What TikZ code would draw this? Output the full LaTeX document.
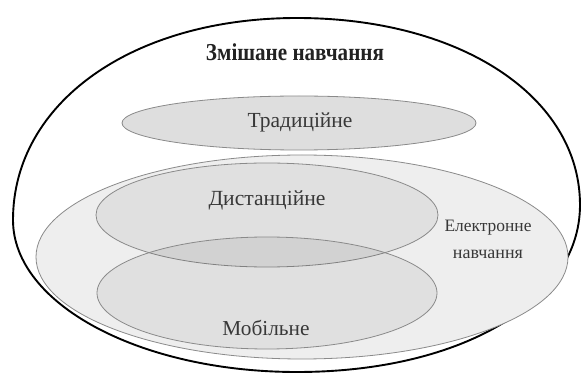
\documentclass[tikz,border=0pt]{standalone}
\usepackage{fontspec}
\setmainfont{Liberation Serif}
\usetikzlibrary{shapes.geometric}
\definecolor{rim}{HTML}{8A8A8A}
\definecolor{txt}{HTML}{383838}
\definecolor{ttl}{HTML}{222222}
\definecolor{efill}{HTML}{EEEEEE}
\definecolor{tfill}{HTML}{DEDEDE}
\tikzset{
  oval/.style={ellipse, draw=rim, line width=0.8pt, inner sep=0pt},
  overlapoval/.style={oval, fill=black, fill opacity=0.06},
  outerline/.style={draw=black, line width=1.9pt, fill=white},
  lbl/.style={inner sep=0pt, text=txt, font=\fontsize{20}{22}\selectfont}
}
\newcommand\fitw[2]{\resizebox{#1}{!}{#2}}
\begin{document}
\begin{tikzpicture}[x=1pt,y=-1pt]
\useasboundingbox (0,0) rectangle (582,374);
\coordinate (oR) at (580,205);
\coordinate (oT) at (297,18);
\coordinate (oL) at (13,220);
\coordinate (oB) at (297,372);
\path[outerline] (oR) .. controls (580,97) and (461,18) .. (oT)
  .. controls (132,18) and (13,103) .. (oL)
  .. controls (13,304) and (140,372) .. (oB)
  .. controls (461,372) and (580,302) .. (oR) -- cycle;
\node[oval, fill=efill, minimum width=532pt, minimum height=204pt] (elearn) at (302,257) {};
\node[oval, fill=tfill, minimum width=354pt, minimum height=54pt] (trad) at (299,123) {};
\node[overlapoval, minimum width=342pt, minimum height=104pt] (dist) at (267,215) {};
\node[overlapoval, minimum width=340pt, minimum height=112pt] (mob) at (267,293) {};
\node[lbl, text=ttl] (tmix) at (295,52) {\scalebox{1}[1.15]{\fitw{178pt}{\bfseries Змішане навчання}}};
\node[lbl] (ttrad) at (300,122) {\fitw{105pt}{Традиційне}};
\node[lbl] (tdist) at (267,200) {\fitw{117pt}{Дистанційне}};
\node[lbl] (tel1) at (488,228) {\fitw{87pt}{Електронне}};
\node[lbl] (tel2) at (488,254) {\fitw{70pt}{навчання}};
\node[lbl] (tmob) at (266,328) {\fitw{87pt}{Мобільне}};
\end{tikzpicture}
\end{document}
